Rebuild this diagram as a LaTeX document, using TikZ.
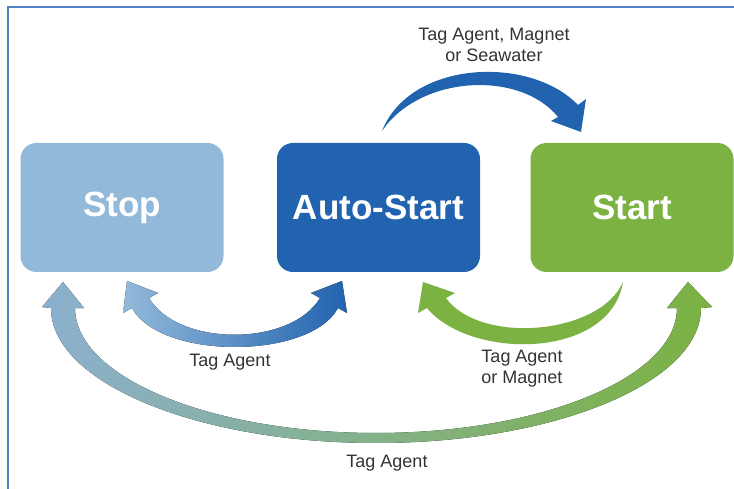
\documentclass[tikz,border=0pt]{standalone}
\usepackage{fontspec}
\setmainfont{Liberation Sans}
\definecolor{stopblue}{HTML}{93B9DA}
\definecolor{autoblue}{HTML}{2163AF}
\definecolor{startgreen}{HTML}{7BB241}
\definecolor{framecol}{HTML}{4F81C4}
\definecolor{txtgray}{HTML}{333333}
\tikzset{
  statebox/.style={rounded corners=16pt, minimum width=203pt, minimum height=129pt,
    text=white, font=\fontsize{35}{40}\selectfont\bfseries, inner sep=0pt},
  lbl/.style={text=txtgray, font=\fontsize{18}{21}\selectfont, align=center, inner sep=0pt}
}
\begin{document}
\begin{tikzpicture}[x=1pt,y=-1pt]
    \useasboundingbox (0,0) rectangle (734,489);
    \draw[framecol, line width=2pt] (8,489) |- (734,7);
    % states
    \node[statebox, fill=stopblue] (stop) at (122,207.5) {Stop};
    \node[statebox, fill=autoblue] (auto) at (378.5,207.5) {Auto-Start};
    \node[statebox, fill=startgreen] (start) at (632,207.5) {Start};
    % auto-start to start
    \fill[autoblue] (382,131) .. controls (410,60) and (530,55) .. (578,105)
        -- (586,99) -- (581,132) -- (551,121) -- (558,117)
        .. controls (520,70) and (420,75) .. (382,131) -- cycle;
    % stop and auto-start
    \fill[left color=stopblue, right color=autoblue] (149,298) -- (158,293) -- (127,281) -- (123,313) -- (132,308)
        .. controls (160,360) and (310,360) .. (338,308)
        -- (347,313) -- (342,281) -- (311,293) -- (320,298)
        .. controls (291,347) and (178,347) .. (149,298) -- cycle;
    % start to auto-start
    \fill[startgreen] (623,282) .. controls (600,335) and (480,345) .. (446,298)
        -- (455,293) -- (423,282) -- (418,313) -- (427,308)
        .. controls (470,360) and (610,360) .. (623,282) -- cycle;
    % stop and start
    \fill[left color=stopblue!95!black, right color=startgreen] (51,308) -- (42,307) -- (63,282) -- (84,308) -- (75,308)
        .. controls (75,377) and (209.8,433) .. (376,433)
        .. controls (542,433) and (677,377) .. (677,308)
        -- (667,308) -- (688,282) -- (712,307) -- (701,308)
        .. controls (701,382.5) and (555.4,443) .. (376,443)
        .. controls (196.6,443) and (51,382.5) .. (51,308) -- cycle;
    % labels
    \node[lbl] (lbltop) at (494,45) {Tag Agent, Magnet\\or Seawater};
    \node[lbl] (lblleft) at (230,362) {Tag Agent};
    \node[lbl] (lblright) at (522,369) {Tag Agent\\or Magnet};
    \node[lbl] (lblbottom) at (387,463) {Tag Agent};
\end{tikzpicture}
\end{document}
